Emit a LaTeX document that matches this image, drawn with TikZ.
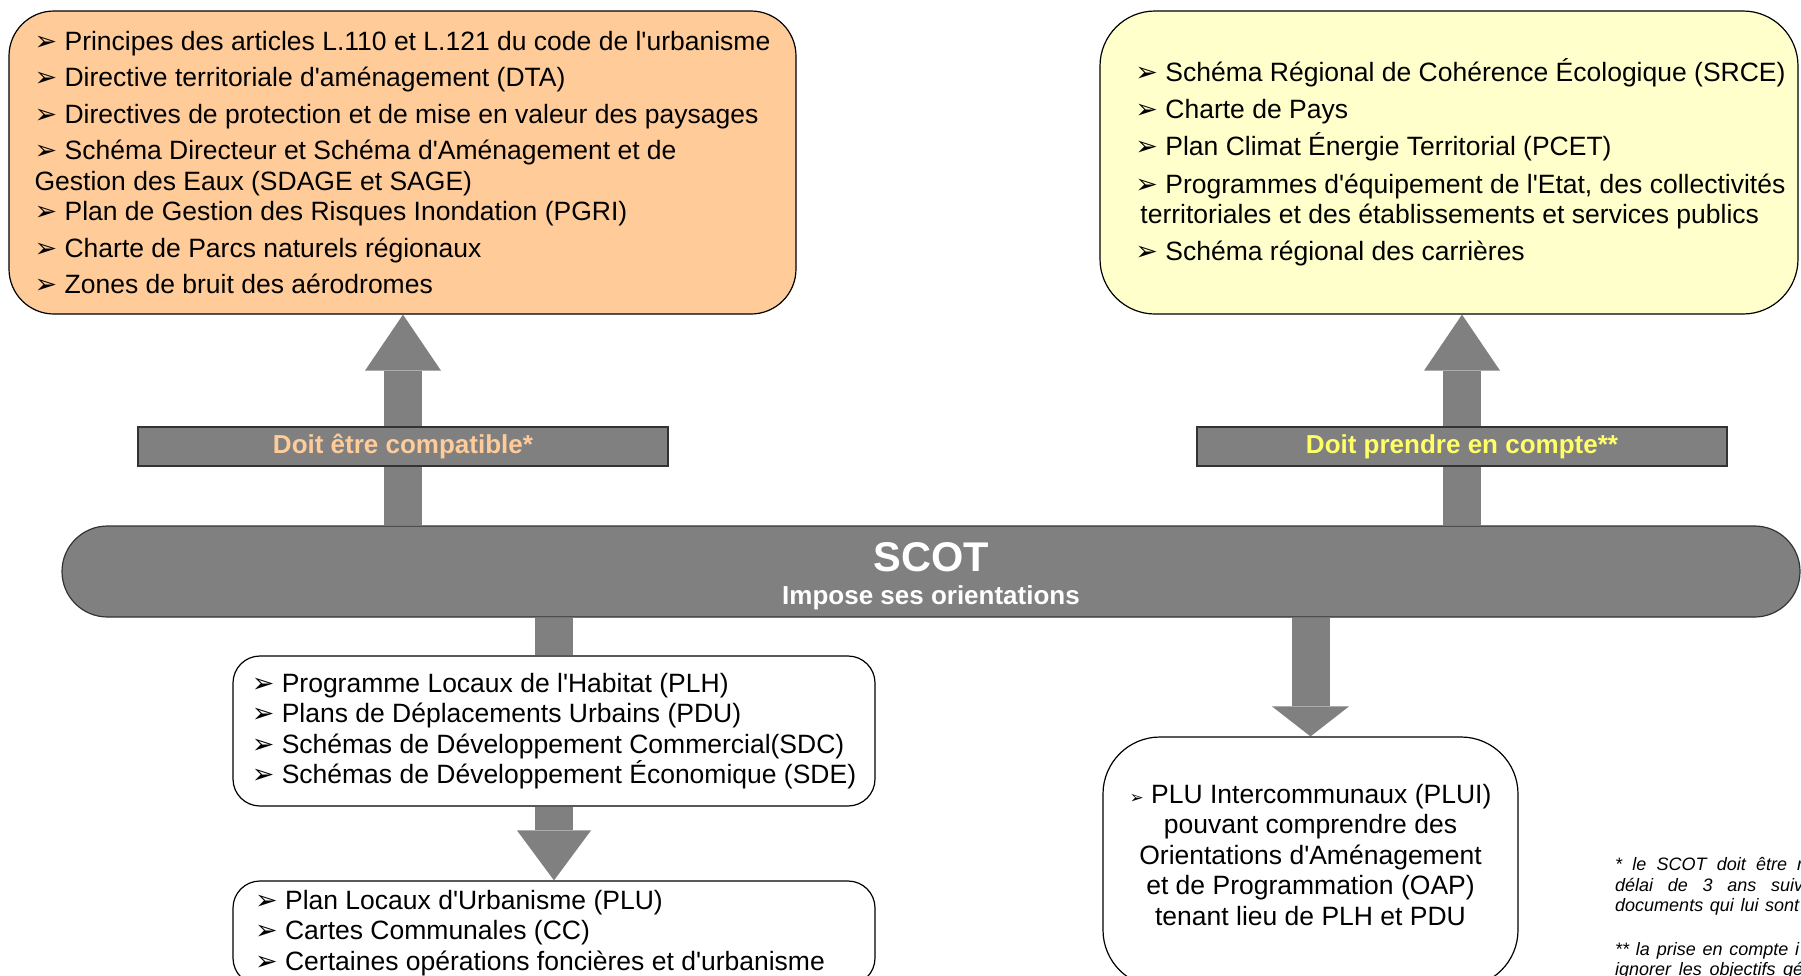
\documentclass[tikz,border=0pt]{standalone}
\usepackage{fontspec}
\setmainfont{Liberation Sans}[Ligatures=TeXOff]
\newfontfamily\symfont{DejaVu Sans}
\usetikzlibrary{arrows.meta}
\definecolor{peche}{HTML}{FFCC99}
\definecolor{creme}{HTML}{FFFFCC}
\definecolor{jaune}{HTML}{FFFF66}
\definecolor{gris}{HTML}{808080}
\newcommand\puce[1][27]{{\symfont\fontsize{#1}{#1}\selectfont ➢}}
\newcommand\corps{\fontsize{26.5}{30.5}\selectfont}
\newcommand\decal{\hspace*{23pt}}
\begin{document}
\begin{tikzpicture}[x=1pt,y=-1pt,
 boite/.style={draw=black,line width=1.2pt,align=left,font=\corps},
 bande/.style={draw=black!80,fill=gris,line width=1.2pt,minimum width=530pt,minimum height=39pt,font=\bfseries\fontsize{26}{26}\selectfont},
 bloc/.style={draw=gris,line width=38pt}]
 \useasboundingbox (0,0) rectangle (1801,975);
 \clip (0,0) rectangle (1801,975);
 \node[boite,fill=peche,rounded corners=45pt,minimum width=787pt,minimum height=303pt](compat) at (402.5,162.5){%
  \puce{} Principes des articles L.110 et L.121 du code de l'urbanisme\\[6pt]
  \puce{} Directive territoriale d'aménagement (DTA)\\[6pt]
  \puce{} Directives de protection et de mise en valeur des paysages\\[6pt]
  \puce{} Schéma Directeur et Schéma d'Aménagement et de\\
  Gestion des Eaux (SDAGE et SAGE)\\
  \puce{} Plan de Gestion des Risques Inondation (PGRI)\\[6pt]
  \puce{} Charte de Parcs naturels régionaux\\[6pt]
  \puce{} Zones de bruit des aérodromes};
 \node[boite,fill=creme,rounded corners=55pt,minimum width=698pt,minimum height=303pt](compte) at (1449,162.5){%
  \decal\puce{} Schéma Régional de Cohérence Écologique (SRCE)\\[6.5pt]
  \decal\puce{} Charte de Pays\\[6.5pt]
  \decal\puce{} Plan Climat Énergie Territorial (PCET)\\[7pt]
  \decal\puce{} Programmes d'équipement de l'Etat, des collectivités\\
  \decal\hspace*{5pt}territoriales et des établissements et services publics\\[6.5pt]
  \decal\puce{} Schéma régional des carrières};
 \node[draw=black!80,fill=gris,line width=1.2pt,rounded corners=45.5pt,minimum width=1738pt,minimum height=91pt,align=center,text=white,font=\fontsize{26}{33}\selectfont\bfseries](scot) at (931,571.5){%
  {\fontsize{41.5}{41.5}\selectfont\rule{0pt}{39pt}SCOT}\\Impose ses orientations};
 \node[boite,rounded corners=27pt,minimum width=642pt,minimum height=150pt](plh) at (554,731){%
  \puce{} Programme Locaux de l'Habitat (PLH)\\
  \puce{} Plans de Déplacements Urbains (PDU)\\
  \puce{} Schémas de Développement Commercial(SDC)\\
  \puce{} Schémas de Développement Économique (SDE)};
 \node[boite,rounded corners=27pt,minimum width=642pt,minimum height=104pt](plu) at (554,933){%
  \puce{} Plan Locaux d'Urbanisme (PLU)\\
  \puce{} Cartes Communales (CC)\\
  \puce{} Certaines opérations foncières et d'urbanisme\hspace*{28pt}};
 \node[boite,align=center,inner xsep=4pt,rounded corners=57pt,minimum width=415pt,minimum height=250pt](plui) at (1310.5,862){%
  \puce[17]{} PLU Intercommunaux (PLUI)\\
  pouvant comprendre des\hspace*{7pt}\\
  Orientations d'Aménagement\\
  et de Programmation (OAP)\hspace*{8pt}\\
  tenant lieu de PLH et PDU\\[-16pt]\mbox{}};
 \node[anchor=north west,align=left,inner sep=0pt,font=\itshape\fontsize{18}{20.5}\selectfont](note) at (1615,857.5){%
  \makebox[188pt][s]{* le SCOT doit être r}\\
  \makebox[188pt][s]{délai de 3 ans suiv}\\
  \makebox[184pt][s]{documents qui lui sont}\\[23pt]
  \makebox[184pt][s]{** la prise en compte i}\\
  \makebox[188pt][s]{ignorer les objectifs gé}};
 \coordinate (xg) at (403,446.5);
 \coordinate (xd) at (1462,446.5);
 \draw[bloc,-{Triangle[width=76pt,length=56pt,line width=0pt]}] (scot.north -| xg) -- (compat.south -| xg);
 \draw[bloc,-{Triangle[width=76pt,length=56pt,line width=0pt]}] (scot.north -| xd) -- (compte.south -| xd);
 \draw[bloc] (scot.south -| plh.north) -- (plh.north);
 \draw[bloc,-{Triangle[width=74pt,length=50pt,line width=0pt]}] (plh.south) -- (plu.north);
 \draw[bloc,-{Triangle[width=77pt,length=30pt,line width=0pt]}] (scot.south -| plui.north) -- (plui.north);
 \node[bande,text=peche](lcompat) at (xg){Doit être compatible*};
 \node[bande,text=jaune](lcompte) at (xd){Doit prendre en compte**};
\end{tikzpicture}
\end{document}
